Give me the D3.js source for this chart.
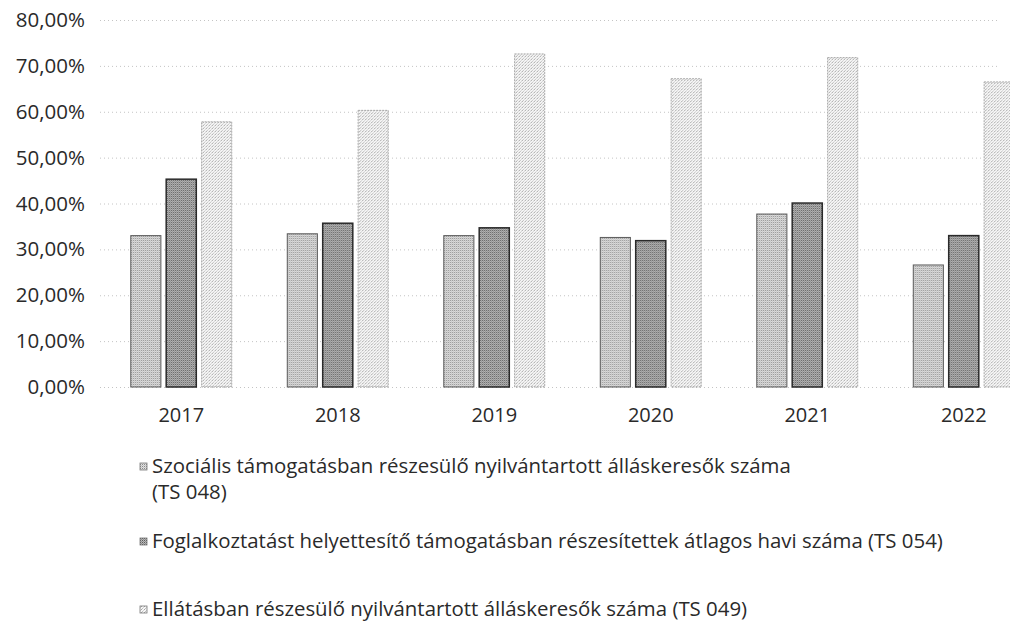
<!DOCTYPE html>
<html>
<head>
<meta charset="utf-8">
<script src="https://cdn.jsdelivr.net/npm/d3@7"></script>
<style>
  body { margin: 0; background: #fff; }
  svg { display: block; }
  text { font-family: 'Open Sans', sans-serif; fill: #2a2a2a; }
</style>
</head>
<body>
<svg></svg>
<script>
const w = 1010
const h = 630

// data
const years = ['2017', '2018', '2019', '2020', '2021', '2022']
const ts048 = [0.330, 0.334, 0.330, 0.326, 0.377, 0.266]
const ts054 = [0.453, 0.357, 0.347, 0.319, 0.401, 0.330]
const ts049 = [0.578, 0.603, 0.726, 0.672, 0.718, 0.665]
const seriesNames = [
  'Szociális támogatásban részesülő nyilvántartott álláskeresők száma',
  'Foglalkoztatást helyettesítő támogatásban részesítettek átlagos havi száma (TS 054)',
  'Ellátásban részesülő nyilvántartott álláskeresők száma (TS 049)'
]
const yTicks = [0, 0.1, 0.2, 0.3, 0.4, 0.5, 0.6, 0.7, 0.8]

const svg = d3.select('svg')
  .attr('width', w)
  .attr('height', h);

const huLocale = d3.formatLocale({decimal: ',', thousands: ' ', grouping: [3], currency: ['', ' Ft']})
const pct = huLocale.format('.2%')

// halftone-ish patterns, like the scan
const defs = svg.append('defs')
const mkPattern = (id, size, bg, dots) => {
  const p = defs.append('pattern')
    .attr('id', id)
    .attr('patternUnits', 'userSpaceOnUse')
    .attr('width', size).attr('height', size)
  p.append('rect').attr('width', size).attr('height', size).attr('fill', bg)
  dots.forEach(d => p.append('rect')
    .attr('x', d[0]).attr('y', d[1]).attr('width', 1).attr('height', 1).attr('fill', d[2]))
}
mkPattern('p1', 2, '#e2e2e2', [[0, 0, '#8c8c8c'], [1, 1, '#c4c4c4']])
mkPattern('p2', 2, '#bcbcbc', [[0, 0, '#5a5a5a'], [1, 1, '#8e8e8e']])
mkPattern('p3', 3, '#f7f7f7', [[0, 0, '#a4a4a4'], [2, 1, '#d2d2d2'], [1, 2, '#bebebe']])

const fills = ['url(#p1)', 'url(#p2)', 'url(#p3)']
const strokes = ['#5a5a5a', '#2a2a2a', '#a8a8a8']

const margin = {top: 20, right: 10, bottom: 243, left: 100}
const innerHeight = h - margin.top - margin.bottom

const g = svg.append('g')
  .attr('transform', `translate(0, ${margin.top})`)

const yScale = d3.scaleLinear()
  .domain([0, 0.8])
  .range([innerHeight, 0])

const xScale = d3.scaleBand()
  .domain(years)
  .range([103, 1042])
  .paddingInner(0.355)
  .paddingOuter(0.1775)

const x1 = d3.scaleBand()
  .domain([0, 1, 2])
  .range([0, xScale.bandwidth()])
  .paddingInner(0.15)

// gridlines + y labels
const yAxisG = g.append('g')
  .attr('transform', 'translate(100, 0)')
  .call(d3.axisLeft(yScale).tickValues(yTicks).tickFormat(pct).tickSize(-900).tickPadding(15))

yAxisG.select('.domain').remove()
yAxisG.selectAll('.tick line')
  .attr('stroke', '#c4c4c4')
  .attr('stroke-dasharray', '1,3')
yAxisG.selectAll('.tick text')
  .attr('font-size', '20.5px')
  .attr('fill', '#2a2a2a')

// bars
const table = years.map((y, i) => ({year: y, vals: [ts048[i], ts054[i], ts049[i]]}))

const groups = g.selectAll('.grp').data(table)
  .enter().append('g')
  .attr('class', 'grp')
  .attr('transform', d => `translate(${xScale(d.year)}, 0)`)

groups.selectAll('rect').data(d => d.vals)
  .enter().append('rect')
  .attr('x', (d, i) => x1(i))
  .attr('y', d => yScale(d))
  .attr('width', x1.bandwidth())
  .attr('height', d => yScale(0) - yScale(d))
  .attr('fill', (d, i) => fills[i])
  .attr('stroke', (d, i) => strokes[i])
  .attr('stroke-width', (d, i) => i === 1 ? 1.5 : 1)
  .attr('stroke-dasharray', (d, i) => i === 2 ? '2,1' : null)

// x labels
const xAxisG = g.append('g')
  .attr('transform', `translate(0, ${innerHeight})`)
  .call(d3.axisBottom(xScale).tickSize(0).tickPadding(21))
xAxisG.select('.domain').remove()
xAxisG.selectAll('.tick text')
  .attr('font-size', '20px')
  .attr('fill', '#2a2a2a')

// legend
const legendRows = [
  {i: 0, y: 473, lines: [seriesNames[0], '(TS 048)']},
  {i: 1, y: 548, lines: [seriesNames[1]]},
  {i: 2, y: 616, lines: [seriesNames[2]]}
]

const leg = svg.append('g')
legendRows.forEach(r => {
  leg.append('rect')
    .attr('x', 140).attr('y', r.y - 10)
    .attr('width', 7).attr('height', 7)
    .attr('fill', fills[r.i])
    .attr('stroke', '#777')
    .attr('stroke-width', 0.8)
  r.lines.forEach((t, k) => {
    leg.append('text')
      .attr('x', 152)
      .attr('y', r.y + k * 26)
      .attr('font-size', '20.4px')
      .text(t)
  })
})
</script>
</body>
</html>
